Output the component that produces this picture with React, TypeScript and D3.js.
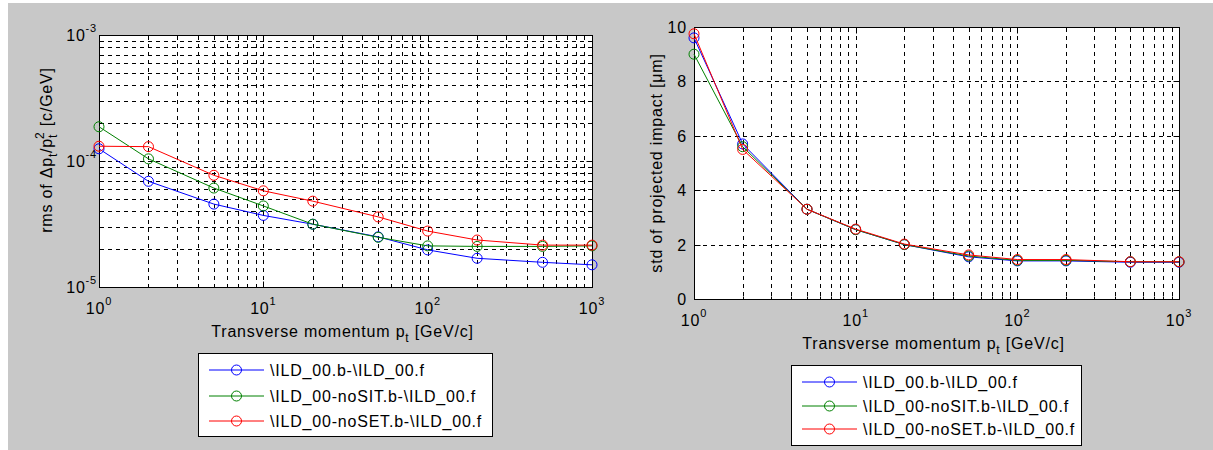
import React from 'react';
import * as d3 from 'd3';

// ---------- data ----------
const ptValues = [1, 2, 5, 10, 20, 50, 100, 200, 500, 1000];

const leftBlue = [1.25e-4, 6.9e-5, 4.55e-5, 3.7e-5, 3.15e-5, 2.5e-5, 1.97e-5, 1.69e-5, 1.57e-5, 1.5e-5];
const leftGreen = [1.87e-4, 1.04e-4, 6.1e-5, 4.4e-5, 3.15e-5, 2.48e-5, 2.12e-5, 2.1e-5, 2.1e-5, 2.12e-5];
const leftRed = [1.31e-4, 1.3e-4, 7.7e-5, 5.8e-5, 4.8e-5, 3.6e-5, 2.78e-5, 2.36e-5, 2.15e-5, 2.15e-5];

const rightBlue = [9.6, 5.7, 3.3, 2.55, 2.0, 1.55, 1.4, 1.4, 1.35, 1.35];
const rightGreen = [9.0, 5.6, 3.3, 2.55, 2.0, 1.58, 1.42, 1.42, 1.37, 1.37];
const rightRed = [9.75, 5.5, 3.3, 2.57, 2.02, 1.62, 1.45, 1.45, 1.37, 1.37];

const seriesNames = ['\\ILD_00.b-\\ILD_00.f', '\\ILD_00-noSIT.b-\\ILD_00.f', '\\ILD_00-noSET.b-\\ILD_00.f'];
const seriesColors = ['#0000ff', '#008000', '#ff0000'];

const xTickExponents = [0, 1, 2, 3];
const leftYTickExponents = [-5, -4, -3];
const rightYTicks = [0, 2, 4, 6, 8, 10];

const FONT = '"Liberation Sans", Arial, Helvetica, sans-serif';
const LS = '0.8px';

function logMinors(e0: number, e1: number): number[] {
  const out: number[] = [];
  for (let e = e0; e < e1; e++) {
    for (let m = 2; m <= 9; m++) out.push(m * Math.pow(10, e));
  }
  return out;
}

type PanelProps = {
  left: number; right: number; top: number; bottom: number;
  yLog: boolean;
  yDomain: [number, number];
  series: number[][];
};

function Panel(p: PanelProps) {
  const x = d3.scaleLog().domain([1, 1000]).range([p.left, p.right]);
  const y = p.yLog
    ? d3.scaleLog().domain(p.yDomain).range([p.bottom, p.top])
    : d3.scaleLinear().domain(p.yDomain).range([p.bottom, p.top]);
  const xMajor = xTickExponents.map((e) => Math.pow(10, e));
  const xMinor = logMinors(0, 3);
  const yMajor = p.yLog ? leftYTickExponents.map((e) => Math.pow(10, e)) : rightYTicks;
  const yMinor = p.yLog ? logMinors(-5, -3) : [];
  const cx = (v: number) => Math.round(x(v)) + 0.5;
  const cy = (v: number) => Math.round(y(v)) + 0.5;
  const xGrid = [...xMajor, ...xMinor].filter((v) => v > 1 && v < 1000);
  const yGrid = [...yMajor, ...yMinor].filter((v) => v > p.yDomain[0] && v < p.yDomain[1]);
  const line = d3.line<number>().x((_, i) => x(ptValues[i])).y((d) => y(d));
  const L = Math.round(p.left) + 0.5, R = Math.round(p.right) + 0.5;
  const T = Math.round(p.top) + 0.5, B = Math.round(p.bottom) + 0.5;
  return (
    <g>
      <rect x={L} y={T} width={R - L} height={B - T} fill="#fff" />
      {xGrid.map((v, i) => (
        <line key={'xg' + i} x1={cx(v)} x2={cx(v)} y1={T} y2={B} stroke="#000" strokeWidth={1} strokeDasharray="4,4" shapeRendering="crispEdges" />
      ))}
      {yGrid.map((v, i) => (
        <line key={'yg' + i} x1={L} x2={R} y1={cy(v)} y2={cy(v)} stroke="#000" strokeWidth={1} strokeDasharray="4,4" shapeRendering="crispEdges" />
      ))}
      {/* ticks */}
      {xMajor.concat(xMinor).map((v, i) => {
        const len = xMajor.includes(v) ? 6 : 3;
        return (
          <g key={'xt' + i}>
            <line x1={cx(v)} x2={cx(v)} y1={B} y2={B - len} stroke="#000" />
            <line x1={cx(v)} x2={cx(v)} y1={T} y2={T + len} stroke="#000" />
          </g>
        );
      })}
      {yMajor.concat(yMinor).map((v, i) => {
        const len = yMajor.includes(v) ? 6 : 3;
        return (
          <g key={'yt' + i}>
            <line x1={L} x2={L + len} y1={cy(v)} y2={cy(v)} stroke="#000" />
            <line x1={R} x2={R - len} y1={cy(v)} y2={cy(v)} stroke="#000" />
          </g>
        );
      })}
      <rect x={L} y={T} width={R - L} height={B - T} fill="none" stroke="#000" strokeWidth={1} />
      {/* series */}
      {p.series.map((s, si) => (
        <g key={'s' + si}>
          <path d={line(s) || ''} fill="none" stroke={seriesColors[si]} strokeWidth={1} />
          {s.map((v, i) => (
            <circle key={i} cx={x(ptValues[i])} cy={y(v)} r={5} fill="none" stroke={seriesColors[si]} strokeWidth={1} />
          ))}
        </g>
      ))}
      {/* x tick labels */}
      {xTickExponents.map((e) => (
        <text key={'xl' + e} x={x(Math.pow(10, e))} y={p.bottom + 27} textAnchor="middle" fontFamily={FONT} fontSize={16} style={{ letterSpacing: LS }}>
          <tspan>10</tspan>
          <tspan dy={-9} fontSize={11}>{e}</tspan>
        </text>
      ))}
      {/* y tick labels */}
      {p.yLog
        ? leftYTickExponents.map((e) => (
            <text key={'yl' + e} x={p.left - 2} y={y(Math.pow(10, e)) + 6} textAnchor="end" fontFamily={FONT} fontSize={16} style={{ letterSpacing: LS }}>
              <tspan>10</tspan>
              <tspan dy={-9} fontSize={11}>{'-' + Math.abs(e)}</tspan>
            </text>
          ))
        : rightYTicks.map((v) => (
            <text key={'yl' + v} x={p.left - 7} y={y(v) + 6} textAnchor="end" fontFamily={FONT} fontSize={16} style={{ letterSpacing: LS }}>
              {v}
            </text>
          ))}
      {/* x label */}
      <text x={(p.left + p.right) / 2 - 3} y={p.bottom + 50} textAnchor="middle" fontFamily={FONT} fontSize={16} style={{ letterSpacing: LS }}>
        <tspan>Transverse momentum p</tspan>
        <tspan dy={5} fontSize={12}>t</tspan>
        <tspan dy={-5}> [GeV/c]</tspan>
      </text>
    </g>
  );
}

function Legend({ x, y, w, h, rowY, lineX1, lineX2, textX }: { x: number; y: number; w: number; h: number; rowY: number[]; lineX1: number; lineX2: number; textX: number }) {
  return (
    <g>
      <rect x={x + 0.5} y={y + 0.5} width={w} height={h} fill="#fff" stroke="#000" strokeWidth={1} />
      {seriesNames.map((name, i) => (
        <g key={i}>
          <line x1={lineX1} x2={lineX2} y1={rowY[i]} y2={rowY[i]} stroke={seriesColors[i]} strokeWidth={1} />
          <circle cx={(lineX1 + lineX2) / 2} cy={rowY[i]} r={5} fill="none" stroke={seriesColors[i]} strokeWidth={1} />
          <text x={textX} y={rowY[i] + 6} fontFamily={FONT} fontSize={16} style={{ letterSpacing: LS }}>{name}</text>
        </g>
      ))}
    </g>
  );
}

export default function App() {
  const W = 1213, H = 450;
  return (
    <svg width={W} height={H} style={{ position: 'absolute', left: 0, top: 0, display: 'block' }}>
      <rect x={0} y={0} width={W} height={H} fill="#fff" />
      <rect x={8} y={3} width={W - 8} height={H - 3} fill="#c8c8c8" />
      <Panel left={99} right={592} top={35} bottom={287} yLog={true} yDomain={[1e-5, 1e-3]} series={[leftBlue, leftGreen, leftRed]} />
      <Panel left={694} right={1179} top={27} bottom={299} yLog={false} yDomain={[0, 10]} series={[rightBlue, rightGreen, rightRed]} />
      {/* y labels */}
      <text transform="translate(52,150) rotate(-90)" textAnchor="middle" fontFamily={FONT} fontSize={16} style={{ letterSpacing: LS }}>
        <tspan>rms of Δp</tspan>
        <tspan dy={5} fontSize={12}>t</tspan>
        <tspan dy={-5}>/p</tspan>
        <tspan dy={5} fontSize={12}>t</tspan>
        <tspan dx={-5} dy={-13} fontSize={12}>2</tspan>
        <tspan dy={8}> [c/GeV]</tspan>
      </text>
      <text transform="translate(662,163) rotate(-90)" textAnchor="middle" fontFamily={FONT} fontSize={16} style={{ letterSpacing: LS }}>
        std of projected impact [μm]
      </text>
      <Legend x={198} y={353} w={294} h={83} rowY={[370, 396, 421]} lineX1={209} lineX2={264} textX={270} />
      <Legend x={791} y={365} w={290} h={80} rowY={[382, 406, 429]} lineX1={802} lineX2={857} textX={863} />
    </svg>
  );
}
